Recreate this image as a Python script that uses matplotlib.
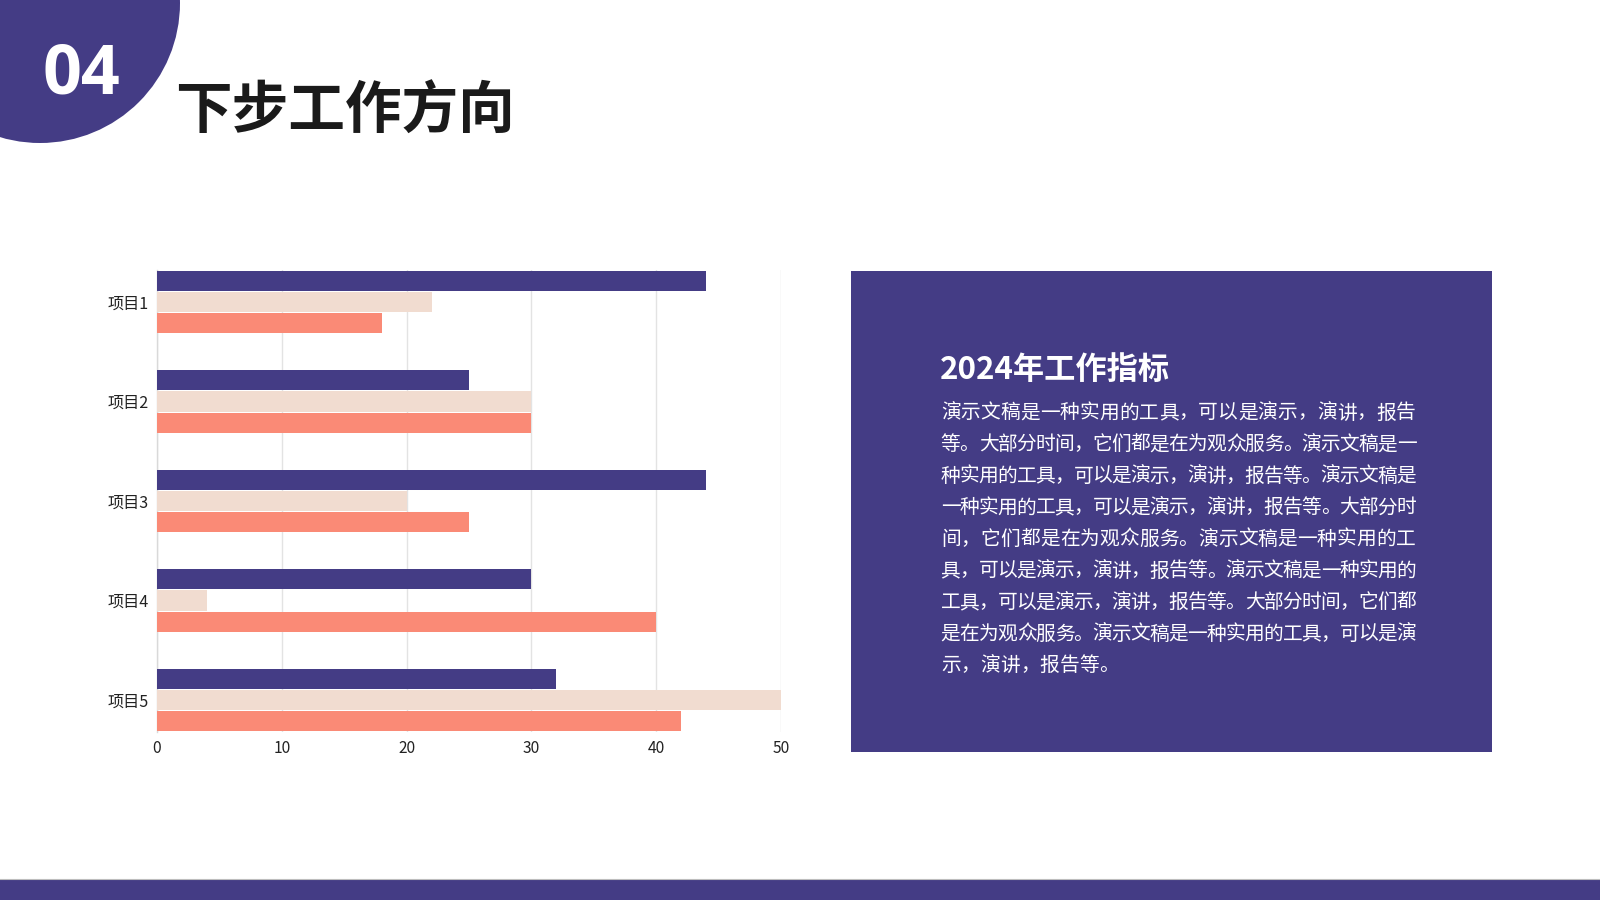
import matplotlib
matplotlib.use("Agg")
import matplotlib.pyplot as plt
from matplotlib.patches import Circle, Rectangle
import numpy as np

plt.rcParams['font.family'] = ['Noto Sans CJK SC', 'DejaVu Sans']

# ---- data ----
categories = ["项目1", "项目2", "项目3", "项目4", "项目5"]
series_a = [44, 25, 44, 30, 32]   # purple
series_b = [22, 30, 20, 4, 50]    # beige
series_c = [18, 30, 25, 40, 42]   # salmon
x_ticks = [0, 10, 20, 30, 40, 50]

title_num = "04"
title = "下步工作方向"
box_heading = "2024年工作指标"
box_lines = [
    "演示文稿是一种实用的工具，可以是演示，演讲，报告",
    "等。大部分时间，它们都是在为观众服务。演示文稿是一",
    "种实用的工具，可以是演示，演讲，报告等。演示文稿是",
    "一种实用的工具，可以是演示，演讲，报告等。大部分时",
    "间，它们都是在为观众服务。演示文稿是一种实用的工",
    "具，可以是演示，演讲，报告等。演示文稿是一种实用的",
    "工具，可以是演示，演讲，报告等。大部分时间，它们都",
    "是在为观众服务。演示文稿是一种实用的工具，可以是演",
    "示，演讲，报告等。",
]

PURPLE = "#443C85"
BEIGE = "#F1DCD0"
SALMON = "#FA8A76"

W, H = 1600, 900
fig = plt.figure(figsize=(16, 9), dpi=100)
fig.patch.set_facecolor("white")

# background layer in pixel coordinates
bg = fig.add_axes([0, 0, 1, 1], zorder=0)
bg.set_xlim(0, W)
bg.set_ylim(H, 0)
bg.axis("off")

bg.add_patch(Circle((40, 3), 140, color=PURPLE, lw=0))
bg.text(81, 75, title_num, color="white", fontsize=49, fontweight="bold",
        family=["Open Sans", "DejaVu Sans"], ha="center", va="center")
bg.text(175, 112, title, color="#1a1a1a", fontsize=40.8, fontweight="bold",
        ha="left", va="center")

# right text box
bg.add_patch(Rectangle((851, 271), 641, 481, color=PURPLE, lw=0))
bg.text(940, 370, box_heading, color="white", fontsize=22.5, fontweight="bold",
        ha="left", va="center")

body_fs = 14.2
em = body_fs * 100 / 72
x0 = 941
target_w = 475
for i, line in enumerate(box_lines):
    yy = 413 + i * 31.6
    n = len(line)
    adv = target_w / n if i < len(box_lines) - 1 else em
    for j, ch in enumerate(line):
        bg.text(x0 + adv * (j + 0.5), yy, ch, color="white", fontsize=body_fs,
                ha="center", va="center")

# bottom bar
bg.add_patch(Rectangle((0, 879), W, 21, color=PURPLE, lw=0))
bg.plot([0, W], [878.5, 878.5], color="#bdbdbd", lw=0.8)

# ---- bar chart ----
ax = fig.add_axes([157 / W, 1 - 732 / H, (781 - 157) / W, (732 - 270) / H], zorder=1)
ax.patch.set_alpha(0)
y = np.arange(len(categories))
off = 0.213
h = 0.202
ax.barh(y - off, series_a, height=h, color=PURPLE, zorder=3)
ax.barh(y, series_b, height=h, color=BEIGE, zorder=3)
ax.barh(y + off, series_c, height=h, color=SALMON, zorder=3)

ax.set_xlim(0, 50)
ax.set_ylim(len(categories) - 1 + 0.322, -0.322)
ax.set_xticks(x_ticks)
ax.set_xticklabels([str(t) for t in x_ticks], fontsize=11.2, color="#222222")
ax.set_yticks(y)
ax.set_yticklabels(categories, fontsize=11.6, color="#222222")
ax.tick_params(axis="both", length=0)
ax.tick_params(axis="y", pad=6)
ax.tick_params(axis="x", pad=5.5)
ax.grid(axis="x", color="#e3e3e3", lw=1, zorder=0)
for s in ["top", "right", "bottom"]:
    ax.spines[s].set_visible(False)
ax.spines["left"].set_color("#d9d9d9")
ax.spines["left"].set_linewidth(1)

fig.savefig("out.png", dpi=100, facecolor="white")
